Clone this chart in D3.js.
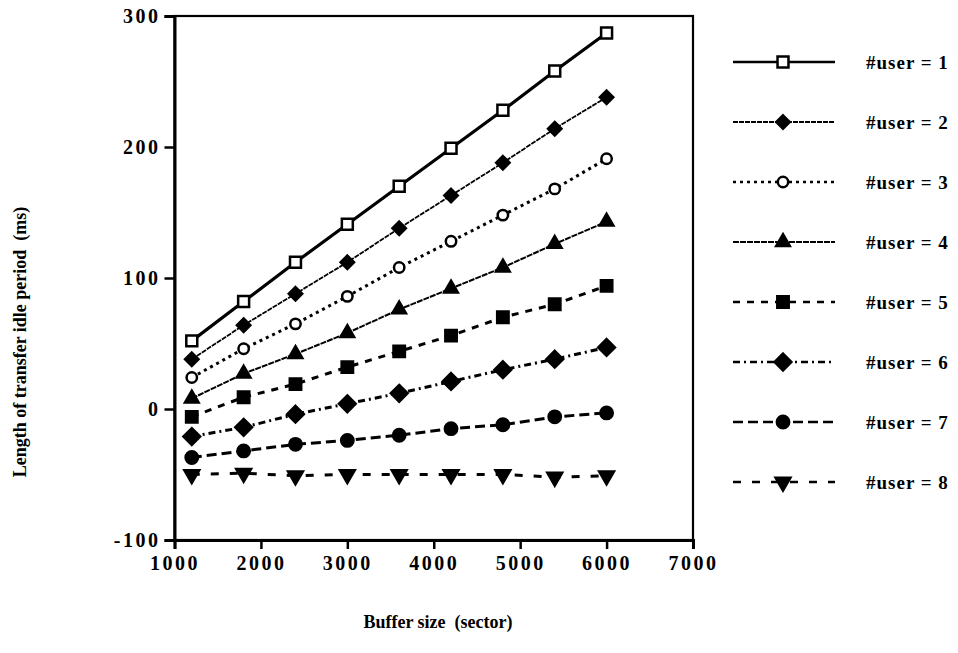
<!DOCTYPE html>
<html lang="en">
<head>
<meta charset="utf-8">
<script src="https://d3js.org/d3.v7.min.js"></script>
<style>
  body { margin: 0; background: #fff; }
  svg text { font-family: 'Liberation Serif', 'Times New Roman', serif; font-weight: bold; fill: #000; }
</style>
</head>
<body>
<script>
    var w = 958, h = 653;

    // buffer sizes (sector)
    var bufferSizes = [1200, 1800, 2400, 3000, 3600, 4200, 4800, 5400, 6000];

    // idle period (ms) per user count
    var user1 = [52, 82, 112, 141, 170, 199, 228, 258, 287];
    var user2 = [38, 64, 88, 112, 138, 163, 188, 214, 238];
    var user3 = [24, 46, 65, 86, 108, 128, 148, 168, 191];
    var user4 = [8, 27, 42, 58, 76, 92, 108, 126, 143];
    var user5 = [-6, 9, 19, 32, 44, 56, 70, 80, 94];
    var user6 = [-21, -14, -4, 4, 12, 21, 30, 38, 47];
    var user7 = [-37, -32, -27, -24, -20, -15, -12, -6, -3];
    var user8 = [-50, -49, -51, -50, -50, -50, -50, -52, -51];

    var seriesNames = ['#user = 1', '#user = 2', '#user = 3', '#user = 4',
                       '#user = 5', '#user = 6', '#user = 7', '#user = 8'];
    var xTicks = [1000, 2000, 3000, 4000, 5000, 6000, 7000];
    var yTicks = [-100, 0, 100, 200, 300];

    // diamond as a rotated square (d3's own diamond is too tall)
    var diamond = {
        draw: function(ctx, size) {
            var r = Math.sqrt(size / 2);
            ctx.moveTo(0, -r); ctx.lineTo(r, 0); ctx.lineTo(0, r); ctx.lineTo(-r, 0); ctx.closePath();
        }
    };

    var styles = [
        {symbol: d3.symbolSquare,   fill: '#fff', width: 3.2, dash: null,      size: 120},
        {symbol: diamond,           fill: '#000', width: 1.8, dash: '5,1',     size: 90},
        {symbol: d3.symbolCircle,   fill: '#fff', width: 3,   dash: '3,4',     size: 85},
        {symbol: d3.symbolTriangle, fill: '#000', width: 2,   dash: '6,1',     size: 80},
        {symbol: d3.symbolSquare,   fill: '#000', width: 3,   dash: '7,7',     size: 130},
        {symbol: diamond,           fill: '#000', width: 3,   dash: '7,4,2,4', size: 140},
        {symbol: d3.symbolCircle,   fill: '#000', width: 3,   dash: '10,5',    size: 120},
        {symbol: d3.symbolTriangle, fill: '#000', width: 3,   dash: '8,11',    size: 95, rot: 180}
    ];

    var data = [user1, user2, user3, user4, user5, user6, user7, user8].map(function(vals, i) {
        return {name: seriesNames[i], style: styles[i],
                points: vals.map(function(v, j) { return {x: bufferSizes[j], y: v}; })};
    });

    var x = d3.scaleLinear().domain([1000, 7000]).range([174.5, 693]);
    var y = d3.scaleLinear().domain([-100, 300]).range([540, 16]);

    var svg = d3.select('body').append('svg').attr('width', w).attr('height', h);

    // frame
    svg.append('rect')
        .attr('x', x(1000)).attr('y', y(300))
        .attr('width', x(7000) - x(1000)).attr('height', y(-100) - y(300))
        .attr('fill', 'none').attr('stroke', '#000').attr('stroke-width', 2.2);

    var fmt = function(d) { return String(d); };  // plain hyphen for negatives

    var xAxis = svg.append('g')
        .attr('transform', 'translate(0,' + y(-100) + ')')
        .call(d3.axisBottom(x).tickValues(xTicks).tickSize(9).tickPadding(7).tickFormat(fmt));
    var yAxis = svg.append('g')
        .attr('transform', 'translate(' + x(1000) + ',0)')
        .call(d3.axisLeft(y).tickValues(yTicks).tickSize(10).tickPadding(6).tickFormat(fmt));

    [xAxis, yAxis].forEach(function(ax) {
        ax.select('.domain').attr('stroke-width', 3);
        ax.selectAll('.tick line').attr('stroke-width', 2.5);
        ax.selectAll('.tick text')
            .attr('font-size', 20).attr('letter-spacing', 2.5);
    });
    yAxis.selectAll('.tick text').attr('dx', 2);

    var line = d3.line().x(function(d) { return x(d.x); }).y(function(d) { return y(d.y); });

    var series = svg.selectAll('.series').data(data).enter().append('g').attr('class', 'series');

    series.append('path')
        .attr('d', function(d) { return line(d.points); })
        .attr('fill', 'none').attr('stroke', '#000')
        .attr('stroke-width', function(d) { return d.style.width; })
        .attr('stroke-dasharray', function(d) { return d.style.dash; });

    series.selectAll('.pt')
        .data(function(d) { return d.points.map(function(p) { return {p: p, s: d.style}; }); })
        .enter().append('path')
        .attr('class', 'pt')
        .attr('d', function(d) { return d3.symbol().type(d.s.symbol).size(d.s.size)(); })
        .attr('transform', function(d) {
            return 'translate(' + x(d.p.x) + ',' + y(d.p.y) + ')' + (d.s.rot ? ' rotate(' + d.s.rot + ')' : '');
        })
        .attr('fill', function(d) { return d.s.fill; })
        .attr('stroke', '#000').attr('stroke-width', 2.5);

    // legend
    var legend = svg.selectAll('.legend').data(data).enter().append('g')
        .attr('class', 'legend')
        .attr('transform', function(d, i) { return 'translate(733,' + (62 + i * 60) + ')'; });

    legend.append('line')
        .attr('x1', 0).attr('x2', 102).attr('y1', 0).attr('y2', 0)
        .attr('stroke', '#000')
        .attr('stroke-width', function(d) { return Math.min(d.style.width, 2.5); })
        .attr('stroke-dasharray', function(d) { return d.style.dash; });

    legend.append('path')
        .attr('d', function(d) { return d3.symbol().type(d.style.symbol).size(d.style.size)(); })
        .attr('transform', function(d) { return 'translate(50,0)' + (d.style.rot ? ' rotate(' + d.style.rot + ')' : ''); })
        .attr('fill', function(d) { return d.style.fill; })
        .attr('stroke', '#000').attr('stroke-width', 2.5);

    legend.append('text')
        .attr('x', 133).attr('y', 0).attr('dy', '0.35em')
        .attr('font-size', 19).attr('letter-spacing', 1)
        .text(function(d) { return d.name; });

    // axis titles
    svg.append('text')
        .attr('x', 438).attr('y', 628)
        .attr('text-anchor', 'middle')
        .attr('font-size', 18)
        .attr('xml:space', 'preserve')
        .text('Buffer size  (sector)');

    svg.append('text')
        .attr('transform', 'translate(26,342) rotate(-90)')
        .attr('text-anchor', 'middle')
        .attr('font-size', 18)
        .attr('xml:space', 'preserve')
        .text('Length of transfer idle period  (ms)');
</script>
</body>
</html>
